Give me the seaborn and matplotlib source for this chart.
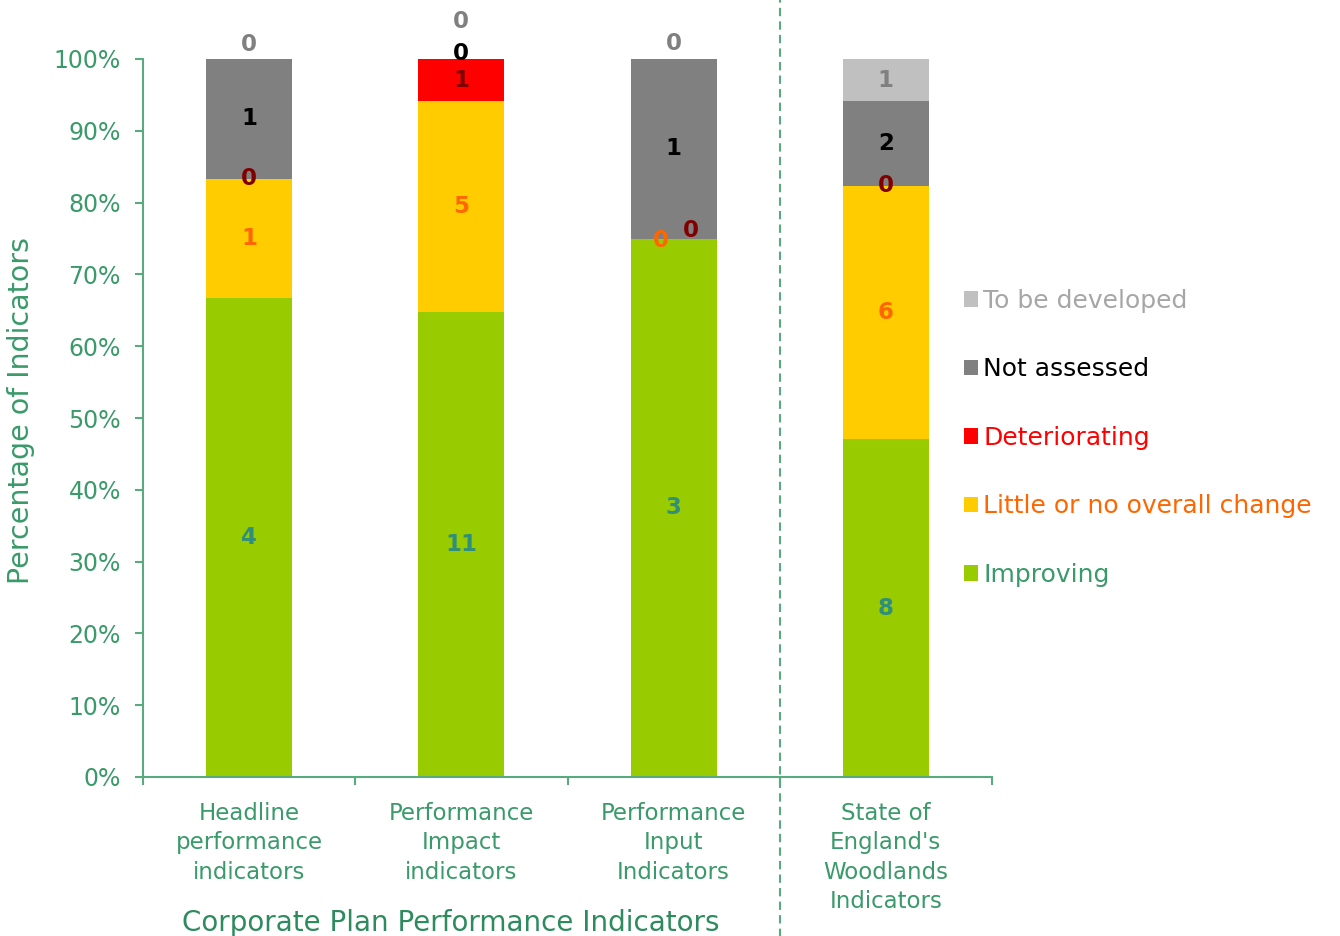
import numpy as np
import matplotlib
matplotlib.use('Agg')
import matplotlib.pyplot as plt
import seaborn as sns
from matplotlib.patches import Patch
from matplotlib.ticker import PercentFormatter, FixedLocator

# data (counts of indicators per group)
categories = ['Headline\nperformance\nindicators',
              'Performance\nImpact\nindicators',
              'Performance\nInput\nIndicators',
              "State of\nEngland's\nWoodlands\nIndicators"]
series = ['Improving', 'Little or no overall change', 'Deteriorating',
          'Not assessed', 'To be developed']
improving = [4, 11, 3, 8]
little_change = [1, 5, 0, 6]
deteriorating = [0, 1, 0, 0]
not_assessed = [1, 0, 1, 2]
to_be_developed = [0, 0, 0, 1]

bar_colors = ['#99CC00', '#FFCC00', '#FF0000', '#808080', '#C0C0C0']
label_colors = ['#2f8f7a', '#FF6600', '#800000', '#000000', '#808080']
legend_text_colors = ['#3a9a6a', '#FF6600', '#FF0000', '#000000', '#A6A6A6']
green = '#3a9a6a'
axis_green = '#5aaa80'

# nudges (pixels) for the zero labels so they don't sit on top of each other
nudges = {(0, 4): (0, 15), (1, 3): (0, 6), (1, 4): (0, 37),
          (2, 1): (-13, -2), (2, 2): (17, 8), (2, 4): (0, 15)}

counts = np.array([improving, little_change, deteriorating, not_assessed, to_be_developed])
shares = counts / counts.sum(axis=0)
cum = shares.cumsum(axis=0)

sns.set_style('white')
plt.rcParams['font.family'] = ['DejaVu Sans']

fig = plt.figure(figsize=(13.4, 9.36), dpi=100)
ax = fig.add_axes([143 / 1340, 1 - 777 / 936, 849 / 1340, 718 / 936])

# stacked bars: draw cumulative totals from the top series down
for i in reversed(range(len(series))):
    sns.barplot(x=categories, y=cum[i], color=bar_colors[i], saturation=1,
                width=0.405, edgecolor='none', linewidth=0, ax=ax)

# value labels
for i in range(len(series)):
    for j in range(len(categories)):
        center = cum[i, j] - shares[i, j] / 2
        dx, dy = nudges.get((j, i), (0, 0))
        ax.annotate(str(counts[i, j]), (j, center), xytext=(dx * 0.72, dy * 0.72),
                    textcoords='offset points', ha='center', va='center',
                    fontsize=16.5, fontweight='bold', color=label_colors[i],
                    annotation_clip=False)

ax.set_xlim(-0.5, 3.5)
ax.set_ylim(0, 1)
ax.yaxis.set_major_locator(FixedLocator(np.arange(0, 1.01, 0.1)))
ax.yaxis.set_major_formatter(PercentFormatter(1.0, decimals=0))
ax.xaxis.set_minor_locator(FixedLocator([-0.5, 0.5, 1.5, 2.5, 3.5]))

for s in ['top', 'right']:
    ax.spines[s].set_visible(False)
for s in ['left', 'bottom']:
    ax.spines[s].set_color(axis_green)
    ax.spines[s].set_linewidth(1.5)

ax.tick_params(axis='y', direction='out', length=6, width=1.5, color=axis_green,
               labelcolor=green, labelsize=17, pad=10, left=True)
ax.tick_params(axis='x', which='major', length=0, labelcolor=green,
               labelsize=16.5, pad=18)
ax.tick_params(axis='x', which='minor', direction='out', length=6, width=1.5,
               color=axis_green, bottom=True)
for t in ax.get_xticklabels():
    t.set_linespacing(1.36)

ax.set_xlabel('')
ax.set_ylabel('Percentage of Indicators', color=green, fontsize=20.5)
ax.yaxis.set_label_coords(-0.127, 0.511)
ax.text(0.95, -0.203, 'Corporate Plan Performance Indicators', transform=ax.get_xaxis_transform(),
        ha='center', va='center', fontsize=20, color='#2e8b5e', fontweight='medium')

# dashed divider between corporate plan and woodlands indicators
ax.axvline(2.5, ymin=-0.23, ymax=1.09, clip_on=False, color=axis_green,
           lw=1.5, ls=(0, (4, 2.5)))

# legend, top entry first
handles = [Patch(facecolor=bar_colors[i], edgecolor='none') for i in reversed(range(5))]
labels = [series[i] for i in reversed(range(5))]
leg = fig.legend(handles, labels, loc='center left', bbox_to_anchor=(951 / 1340, 1 - 438 / 936),
                 frameon=False, fontsize=18, handlelength=0.58, handleheight=0.58,
                 handletextpad=0.2, labelspacing=1.78, borderpad=0)
for t, c in zip(leg.get_texts(), reversed(legend_text_colors)):
    t.set_color(c)

fig.savefig('out.png', dpi=100)
